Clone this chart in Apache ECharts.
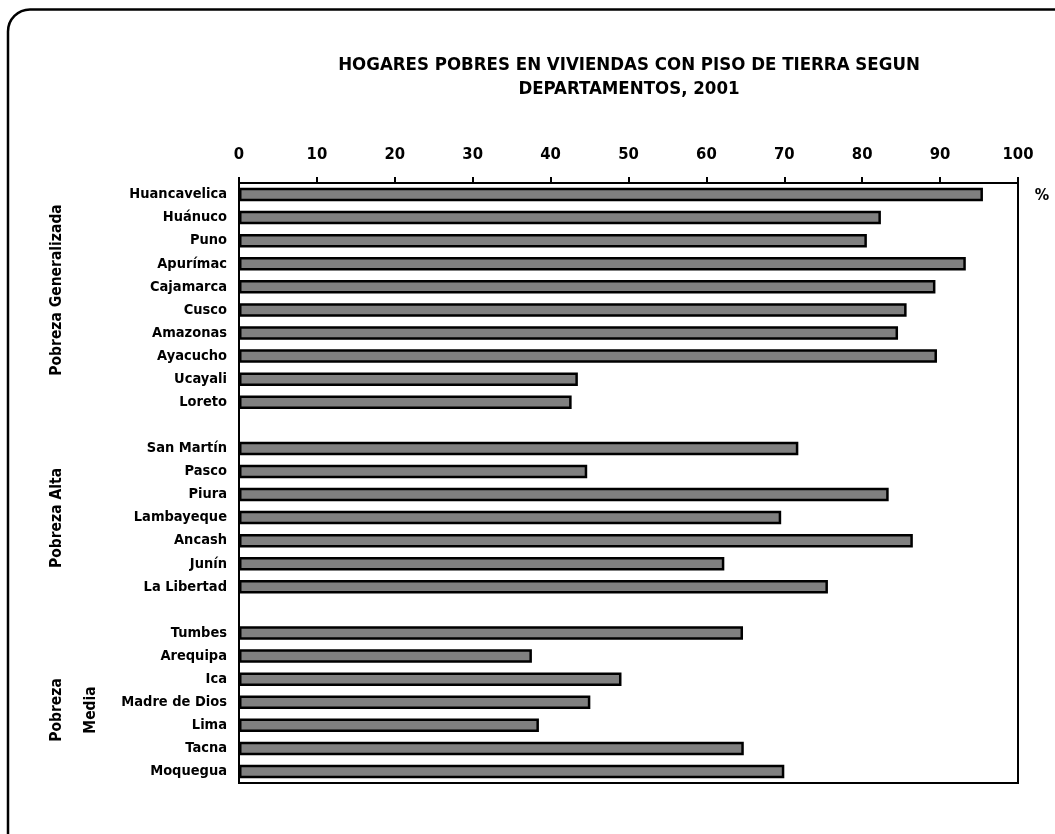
<!DOCTYPE html>
<html>
<head>
<meta charset="utf-8">
<script src="https://cdn.jsdelivr.net/npm/echarts@6/dist/echarts.min.js"></script>
<style>html,body{margin:0;padding:0;background:#fff;}#c{width:1055px;height:834px;}</style>
</head>
<body>
<div id="c"></div>
<script>
var categories = ['Huancavelica','Huánuco','Puno','Apurímac','Cajamarca','Cusco','Amazonas','Ayacucho','Ucayali','Loreto','',
  'San Martín','Pasco','Piura','Lambayeque','Ancash','Junín','La Libertad','',
  'Tumbes','Arequipa','Ica','Madre de Dios','Lima','Tacna','Moquegua'];
var values = [95.5,82.4,80.6,93.3,89.4,85.7,84.6,89.6,43.5,42.7,null,
  71.8,44.7,83.4,69.6,86.5,62.3,75.6,null,
  64.7,37.6,49.1,45.1,38.5,64.8,70.0];
var xTicks = [0,10,20,30,40,50,60,70,80,90,100];
var titleLines = ['HOGARES POBRES EN VIVIENDAS CON PISO DE TIERRA SEGUN','DEPARTAMENTOS, 2001'];

var FONT = '"Liberation Sans Narrow","Arial Narrow","DejaVu Sans Condensed","Liberation Sans",Arial,sans-serif';
var chart = echarts.init(document.getElementById('c'), null, {renderer:'canvas'});
chart.setOption({
  animation:false,
  backgroundColor:'#fff',
  title:{
    text: titleLines.join('\n'),
    left: 624, top: 48, textAlign:'center',
    textStyle:{fontFamily:FONT, fontSize:18.5, fontWeight:'bold', color:'#000', lineHeight:24}
  },
  grid:{left:239, top:183, width:779, height:600, show:true, borderColor:'#000', borderWidth:2, backgroundColor:'transparent'},
  xAxis:{
    type:'value', position:'top', min:0, max:100, interval:10,
    axisLine:{show:true, lineStyle:{color:'#000', width:2}},
    axisTick:{show:true, inside:false, length:6, lineStyle:{color:'#000', width:2}},
    splitLine:{show:false},
    axisLabel:{margin:20, fontFamily:FONT, fontSize:16.5, fontWeight:'bold', color:'#000',
      formatter:function(v){return xTicks.indexOf(v)>=0 ? String(v) : '';}}
  },
  yAxis:{
    type:'category', data:categories, inverse:true,
    axisLine:{show:true, lineStyle:{color:'#000', width:2}},
    axisTick:{show:false},
    axisLabel:{margin:12, fontFamily:FONT, fontSize:14.5, fontWeight:'bold', color:'#000'}
  },
  series:[{
    type:'bar', data:values, barWidth:13.5,
    itemStyle:{color:'#808080', borderColor:'#000', borderWidth:2.5}
  }],
  graphic:[
    {type:'rect', shape:{x:8, y:9.5, width:1090, height:870, r:22}, style:{fill:'none', stroke:'#000', lineWidth:2.5}, z:-1},
    {type:'text', x:1042, y:196, style:{text:'%', font:'bold 16px '+FONT, fill:'#000', align:'center', verticalAlign:'middle'}},
    {type:'text', x:57, y:290, rotation:Math.PI/2, style:{text:'Pobreza Generalizada', font:'bold 15.5px '+FONT, fill:'#000', align:'center', verticalAlign:'middle'}},
    {type:'text', x:57, y:518, rotation:Math.PI/2, style:{text:'Pobreza Alta', font:'bold 15.5px '+FONT, fill:'#000', align:'center', verticalAlign:'middle'}},
    {type:'text', x:57, y:710, rotation:Math.PI/2, style:{text:'Pobreza', font:'bold 15.5px '+FONT, fill:'#000', align:'center', verticalAlign:'middle'}},
    {type:'text', x:91, y:710, rotation:Math.PI/2, style:{text:'Media', font:'bold 15.5px '+FONT, fill:'#000', align:'center', verticalAlign:'middle'}}
  ]
});
</script>
</body>
</html>
